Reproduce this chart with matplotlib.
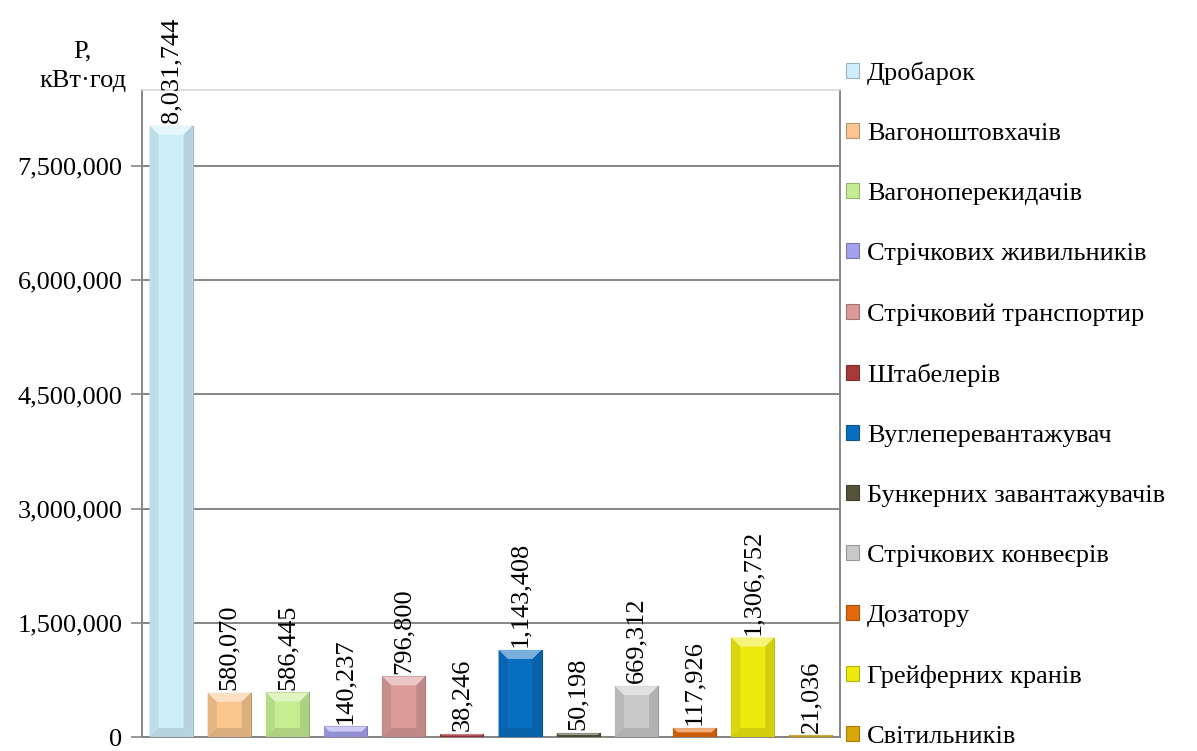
import matplotlib
matplotlib.use("Agg")
import matplotlib.pyplot as plt
from matplotlib.patches import Polygon
from matplotlib.transforms import IdentityTransform
import numpy as np

plt.rcParams['font.family'] = ['Liberation Serif', 'DejaVu Serif']

categories = ["Дробарок", "Вагоноштовхачів", "Вагоноперекидачів",
              "Стрічкових живильників", "Стрічковий транспортир", "Штабелерів",
              "Вуглеперевантажувач", "Бункерних завантажувачів", "Стрічкових конвеєрів",
              "Дозатору", "Грейферних кранів", "Світильників"]
values = [8031744, 580070, 586445, 140237, 796800, 38246,
          1143408, 50198, 669312, 117926, 1306752, 21036]
colors = ["#CFF0FB", "#F9C68F", "#C5EE92", "#A4A2F0", "#DA9B98", "#A8393A",
          "#0A6EC0", "#55543A", "#C9C9C9", "#E2690D", "#EEEA10", "#D9A70A"]
yticks = [0, 1500000, 3000000, 4500000, 6000000, 7500000]


def shade(c, f):
    # f > 0 -> towards white, f < 0 -> towards black
    rgb = np.array(matplotlib.colors.to_rgb(c))
    if f > 0:
        return tuple(rgb + (1 - rgb) * f)
    return tuple(rgb * (1 + f))


fig = plt.figure(figsize=(11.97, 7.51), dpi=100)
ax = fig.add_axes([0.1186, 0.0186, 0.5832, 0.8616])

x = np.arange(len(categories))
bars = []
for i in range(len(categories)):
    b = ax.bar(x[i], values[i], width=0.74, color=colors[i],
               edgecolor=shade(colors[i], -0.25), linewidth=0.8,
               label=categories[i], zorder=3)
    bars.append(b)
    ax.bar_label(b, labels=[f"{values[i]:,}"], rotation=90, padding=2,
                 fontsize=19, zorder=4)

ax.set_xlim(-0.5, len(categories) - 0.5)
ax.set_ylim(0, 8500000)
ax.set_yticks(yticks)
ax.set_yticklabels([f"{v:,}" for v in yticks], fontsize=19)
ax.set_xticks([])
ax.tick_params(axis='y', length=8, width=1.2, color="#868686", pad=6)
ax.yaxis.grid(True, color="#868686", linewidth=1.4, zorder=0)
ax.set_axisbelow(True)
for s in ["left", "right", "bottom"]:
    ax.spines[s].set_color("#868686")
    ax.spines[s].set_linewidth(1.4)
ax.spines["top"].set_color("#D9D9D9")
ax.spines["top"].set_linewidth(1.2)

# simple bevel look on each bar
ident = IdentityTransform()
for i, b in enumerate(bars):
    r = b.patches[0]
    (x0, y0), (x1, y1) = ax.transData.transform([(r.get_x(), 0),
                                                 (r.get_x() + r.get_width(), r.get_height())])
    d = min(9, (y1 - y0) / 2, (x1 - x0) / 2)
    c = colors[i]
    top = Polygon([(x0, y1), (x1, y1), (x1 - d, y1 - d), (x0 + d, y1 - d)],
                  closed=True, transform=ident, facecolor=shade(c, 0.45), edgecolor='none', zorder=3.5)
    bot = Polygon([(x0, y0), (x1, y0), (x1 - d, y0 + d), (x0 + d, y0 + d)],
                  closed=True, transform=ident, facecolor=shade(c, -0.12), edgecolor='none', zorder=3.5)
    lft = Polygon([(x0, y0), (x0, y1), (x0 + d, y1 - d), (x0 + d, y0 + d)],
                  closed=True, transform=ident, facecolor=shade(c, -0.08), edgecolor='none', zorder=3.5)
    rgt = Polygon([(x1, y0), (x1, y1), (x1 - d, y1 - d), (x1 - d, y0 + d)],
                  closed=True, transform=ident, facecolor=shade(c, -0.12), edgecolor='none', zorder=3.5)
    for p in (top, bot, lft, rgt):
        fig.artists.append(p)
        p.set_figure(fig)

fig.text(0.069, 0.912, "P,\nкВт·год", ha="center", va="center", fontsize=19,
         linespacing=1.45)

leg = fig.legend(loc="upper left", bbox_to_anchor=(0.698, 0.932), frameon=False,
                 fontsize=19, handlelength=0.5, handleheight=0.5,
                 handletextpad=0.3, labelspacing=1.44, borderaxespad=0)

fig.savefig("out.png", dpi=100)
